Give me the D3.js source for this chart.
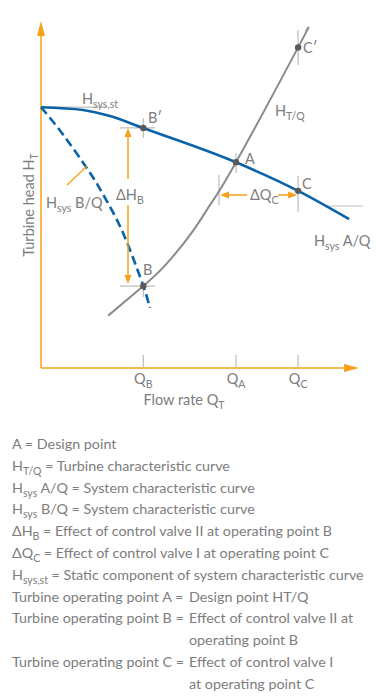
<!DOCTYPE html>
<html>
<head>
<meta charset="utf-8">
<title>Turbine operating points</title>
<style>
  body { margin: 0; background: #fff; }
  svg text { font-family: Lato, "Open Sans", sans-serif; fill: #7d7d7d; }
</style>
<script src="https://cdn.jsdelivr.net/npm/d3@7"></script>
</head>
<body>
<svg width="376" height="700"></svg>
<script>
// curve data: [flow Q, head H] in chart units (0..100 on both axes)
var sysA = [[0, 76.7], [14, 75.9], [23, 74.1], [34, 70.6], [65, 60.5], [85.7, 52.1], [102.7, 43.8]];
var sysB = [[0, 76.7], [7.4, 68.6], [15.8, 58.1], [19.7, 52.6], [24.7, 44.6], [29.1, 36.0], [34.1, 24.1], [36.3, 17.7]];
var turbine = [[22.4, 15.4], [34.1, 24.1], [41.9, 30.7], [50.8, 40.5], [56.3, 47.9], [65, 60.5], [85.7, 94.3], [88.3, 98.9]];

var points = [
  {name: "B′", q: 34.1, h: 70.6},
  {name: "A", q: 65, h: 60.5},
  {name: "C", q: 85.7, h: 52.1},
  {name: "C′", q: 85.7, h: 94.3},
  {name: "B", q: 34.1, h: 24.1}
];

var xTicks = [
  {main: "Q", sub: "B", q: 34.1},
  {main: "Q", sub: "A", q: 65},
  {main: "Q", sub: "C", q: 85.7}
];

// legend rows, [text, isSubscript]
var legendRows = [
  [["A = Design point"]],
  [["H"], ["T/Q", 1], [" = Turbine characteristic curve"]],
  [["H"], ["sys", 1], [" A/Q = System characteristic curve"]],
  [["H"], ["sys", 1], [" B/Q = System characteristic curve"]],
  [["ΔH"], ["B", 1], [" = Effect of control valve II at operating point B"]],
  [["ΔQ"], ["C", 1], [" = Effect of control valve I at operating point C"]],
  [["H"], ["sys,st", 1], [" = Static component of system characteristic curve"]]
];
var opLabels = ["Turbine operating point A =", "Turbine operating point B =", "Turbine operating point C ="];
var opTexts = [["Design point HT/Q"], ["Effect of control valve II at", "operating point B"], ["Effect of control valve I", "at operating point C"]];

var orange = "#f7a11a", blue = "#0a62a8", grey = "#8b8b8b", light = "#bdbdbd", dot = "#595959";

var svg = d3.select("svg");
var x = d3.scaleLinear().domain([0, 100]).range([41, 341]);
var y = d3.scaleLinear().domain([0, 100]).range([368, 28]);

function addText(sel, parts, big, small) {
  parts.forEach(function(p) {
    if (p[1]) {
      sel.append("tspan").attr("font-size", small).attr("dy", 4).text(p[0]);
    } else {
      var t = sel.append("tspan").attr("font-size", big).text(p[0]);
      if (sel.selectAll("tspan").size() > 1) t.attr("dy", -4);
    }
  });
  return sel;
}
function label(px, py, parts, anchor, big) {
  var t = svg.append("text").attr("x", px).attr("y", py).attr("text-anchor", anchor || "start");
  return addText(t, parts, big || 14.5, 10.5);
}
function vline(px, y1, y2, col) {
  svg.append("line").attr("x1", px).attr("x2", px).attr("y1", y1).attr("y2", y2)
    .attr("stroke", col || light).attr("stroke-width", 1.2);
}
function hline(y0, x1, x2, col) {
  svg.append("line").attr("x1", x1).attr("x2", x2).attr("y1", y0).attr("y2", y0)
    .attr("stroke", col || light).attr("stroke-width", 1.2);
}
function arrowHead(tx, ty, dir) {
  var pts;
  if (dir == "up") pts = [[tx, ty], [tx - 3.5, ty + 9], [tx + 3.5, ty + 9]];
  if (dir == "down") pts = [[tx, ty], [tx - 3.5, ty - 9], [tx + 3.5, ty - 9]];
  if (dir == "left") pts = [[tx, ty], [tx + 9, ty - 3.5], [tx + 9, ty + 3.5]];
  if (dir == "right") pts = [[tx, ty], [tx - 9, ty - 3.5], [tx - 9, ty + 3.5]];
  svg.append("path").attr("d", "M" + pts.join("L") + "Z").attr("fill", orange);
}

// axes
svg.append("line").attr("x1", x(0)).attr("x2", x(0)).attr("y1", y(0)).attr("y2", 30)
  .attr("stroke", orange).attr("stroke-width", 1.5);
svg.append("path").attr("d", "M" + x(0) + ",21L" + (x(0) - 4) + ",36L" + (x(0) + 4) + ",36Z").attr("fill", orange);
svg.append("line").attr("x1", x(0)).attr("x2", 350).attr("y1", y(0)).attr("y2", y(0))
  .attr("stroke", orange).attr("stroke-width", 1.5);
svg.append("path").attr("d", "M359," + y(0) + "L344," + (y(0) - 4) + "L344," + (y(0) + 4) + "Z").attr("fill", orange);

// x ticks
xTicks.forEach(function(d) {
  vline(x(d.q), y(0) - 13, y(0) - 0.5);
  label(x(d.q), 384, [[d.main], [d.sub, 1]], "middle");
});
var xl = svg.append("text").attr("x", 184).attr("y", 405).attr("text-anchor", "middle");
addText(xl, [["Flow rate Q"], ["T", 1]], 14.5, 10.5);

var yl = svg.append("text").attr("transform", "translate(34,205) rotate(-90)").attr("text-anchor", "middle");
addText(yl, [["Turbine head H"], ["T", 1]], 14.5, 10.5);

// helper lines
hline(y(76.7), x(0), 106);
vline(x(85.7), 30, 65);
vline(x(34.1), 118, 138);
hline(y(70.6), 120, 155);
vline(x(65), 153, 173);
vline(x(85.7), 176, 212);
vline(219, 175, 205);
hline(206, 326, 363);
hline(y(24.1), 120, 155);
vline(x(34.1), y(24.1), 297);

// curves
var smooth = d3.line().x(function(d) { return x(d[0]); }).y(function(d) { return y(d[1]); }).curve(d3.curveNatural);
var mono = d3.line().x(function(d) { return x(d[0]); }).y(function(d) { return y(d[1]); }).curve(d3.curveMonotoneX);
svg.append("path").datum(turbine).attr("d", smooth).attr("fill", "none").attr("stroke", grey).attr("stroke-width", 2);
svg.append("path").datum(sysB).attr("d", smooth).attr("fill", "none").attr("stroke", blue)
  .attr("stroke-width", 2.6).attr("stroke-dasharray", "9,4.5");
svg.append("path").datum(sysA).attr("d", mono).attr("fill", "none").attr("stroke", blue).attr("stroke-width", 2.6);

// delta H_B arrows
svg.append("line").attr("x1", 128).attr("x2", 128).attr("y1", 136).attr("y2", 179).attr("stroke", orange).attr("stroke-width", 1.5);
arrowHead(128, y(70.6), "up");
svg.append("line").attr("x1", 128).attr("x2", 128).attr("y1", 205).attr("y2", 277).attr("stroke", orange).attr("stroke-width", 1.5);
arrowHead(128, y(24.1) - 2, "down");
label(116, 200, [["ΔH"], ["B", 1]]);

// delta Q_C arrows
svg.append("line").attr("x1", 226).attr("x2", 247).attr("y1", 195).attr("y2", 195).attr("stroke", orange).attr("stroke-width", 1.5);
arrowHead(220, 195, "left");
svg.append("line").attr("x1", 278).attr("x2", 290).attr("y1", 195).attr("y2", 195).attr("stroke", orange).attr("stroke-width", 1.5);
arrowHead(x(85.7) - 1, 195, "right");
label(250, 200, [["ΔQ"], ["C", 1]]);

// leader for H_sys B/Q
svg.append("line").attr("x1", 67).attr("y1", 185).attr("x2", 87).attr("y2", 166).attr("stroke", orange).attr("stroke-width", 1.3);

// points
svg.selectAll("circle.pt").data(points).enter().append("circle")
  .attr("class", "pt")
  .attr("cx", function(d) { return x(d.q); })
  .attr("cy", function(d) { return y(d.h); })
  .attr("r", 3.2).attr("fill", dot);

// curve / point labels
label(148, 123, [["B′"]]);
label(245, 164, [["A"]]);
label(302, 189, [["C"]]);
label(303, 53, [["C′"]]);
label(143, 275, [["B"]]);
label(275, 116, [["H"], ["T/Q", 1]]);
label(82, 104, [["H"], ["sys,st", 1]]);
label(46, 208, [["H"], ["sys", 1], [" B/Q"]]);
label(314, 246, [["H"], ["sys", 1], [" A/Q"]]);

// legend
var rowY = 449, step = 21.8;
legendRows.forEach(function(r, i) {
  label(12, rowY + i * step, r, "start", 14.3);
});
var r0 = legendRows.length;
var base = rowY + r0 * step;
opLabels.forEach(function(l, i) {
  label(12, base, [[l]], "start", 14.3);
  opTexts[i].forEach(function(t, j) {
    label(189, base + j * step, [[t]], "start", 14.3);
  });
  base += opTexts[i].length * step;
});
</script>
</body>
</html>
